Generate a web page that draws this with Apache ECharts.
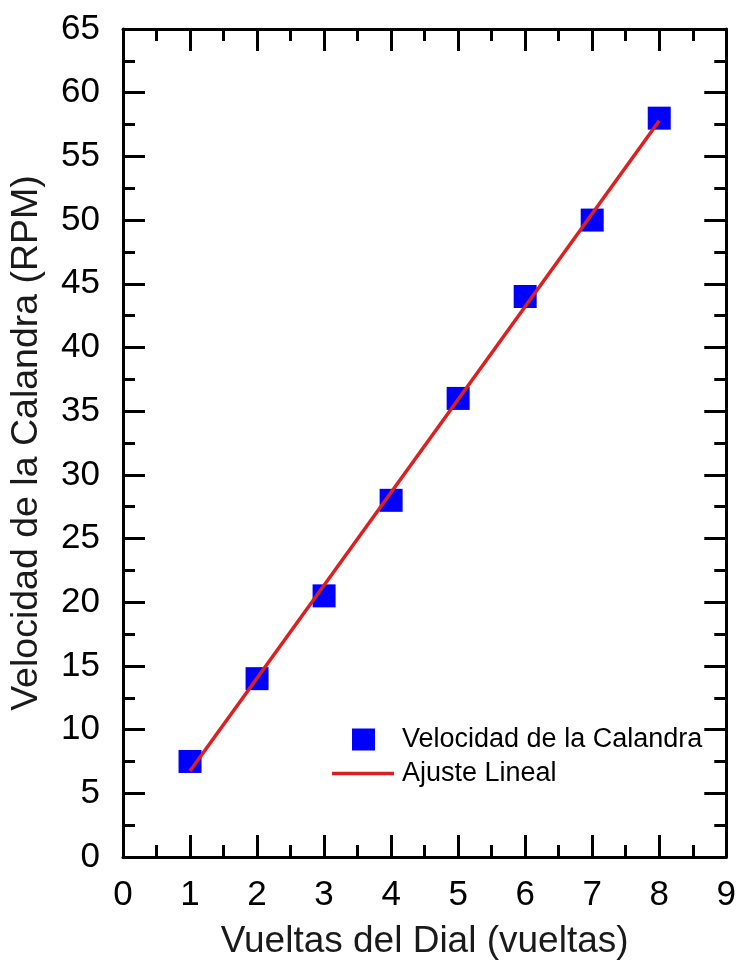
<!DOCTYPE html>
<html>
<head>
<meta charset="utf-8">
<script src="https://cdn.jsdelivr.net/npm/echarts@6/dist/echarts.min.js"></script>
<style>
html,body{margin:0;padding:0;background:#fff;}
#chart{width:739px;height:965px;}
</style>
</head>
<body>
<div id="chart"></div>
<script>
// Data
const dialTurns = [1, 2, 3, 4, 5, 6, 7, 8];
const speedRPM = [7.5, 14, 20.5, 28, 36, 44, 50, 58];
const fitX = [1, 8];
const fitY = [6.75, 57.8];
const xTicks = [0, 1, 2, 3, 4, 5, 6, 7, 8, 9];
const yTicks = [0, 5, 10, 15, 20, 25, 30, 35, 40, 45, 50, 55, 60, 65];

const seriesScatterName = 'Velocidad de la Calandra';
const seriesLineName = 'Ajuste Lineal';
const xTitle = 'Vueltas del Dial (vueltas)';
const yTitle = 'Velocidad de la Calandra (RPM)';

const FONT = "'Liberation Sans', Arial, sans-serif";

const chart = echarts.init(document.getElementById('chart'), null, {renderer: 'canvas'});

const tickStyle = {show: true, inside: true, length: 22, lineStyle: {color: '#000', width: 3}};
const minorStyle = {show: true, splitNumber: 2, length: 12, lineStyle: {color: '#000', width: 3}};
const lineStyleAxis = {show: true, onZero: false, lineStyle: {color: '#000', width: 3}};

function baseX(extra) {
  return Object.assign({
    type: 'value', min: xTicks[0], max: xTicks[xTicks.length - 1], interval: 1,
    axisLine: lineStyleAxis, axisTick: tickStyle, minorTick: minorStyle,
    splitLine: {show: false}, minorSplitLine: {show: false}
  }, extra);
}
function baseY(extra) {
  return Object.assign({
    type: 'value', min: yTicks[0], max: yTicks[yTicks.length - 1], interval: 5,
    axisLine: lineStyleAxis, axisTick: tickStyle, minorTick: minorStyle,
    splitLine: {show: false}, minorSplitLine: {show: false}
  }, extra);
}

const option = {
  backgroundColor: '#fff',
  animation: false,
  textStyle: {fontFamily: FONT},
  grid: {left: 122, right: 11, top: 29, bottom: 103, containLabel: false},
  xAxis: [
    baseX({
      position: 'bottom',
      name: xTitle, nameLocation: 'middle', nameGap: 66,
      nameTextStyle: {fontSize: 37, color: '#1a1a1a', fontFamily: FONT},
      axisLabel: {show: true, fontSize: 35, color: '#000', margin: 21, fontFamily: FONT}
    }),
    baseX({position: 'top', axisLabel: {show: false}})
  ],
  yAxis: [
    baseY({
      position: 'left',
      name: yTitle, nameLocation: 'middle', nameGap: 77, nameRotate: 90,
      nameTextStyle: {fontSize: 37.5, color: '#1a1a1a', fontFamily: FONT},
      axisLabel: {show: true, fontSize: 35, color: '#000', margin: 23, fontFamily: FONT}
    }),
    baseY({position: 'right', axisLabel: {show: false}})
  ],
  legend: [
    {
      data: [{name: seriesScatterName, icon: 'rect'}],
      left: 347, top: 721, orient: 'vertical',
      itemWidth: 23, itemHeight: 22,
      textStyle: {fontSize: 27, color: '#000', fontFamily: FONT, padding: [0, 0, 0, 22]},
      selectedMode: false
    },
    {
      data: [{name: seriesLineName, icon: 'rect'}],
      left: 327, top: 755, orient: 'vertical',
      itemWidth: 62, itemHeight: 3.5,
      textStyle: {fontSize: 27, color: '#000', fontFamily: FONT, padding: [0, 0, 0, 3]},
      selectedMode: false
    }
  ],
  series: [
    {
      name: seriesScatterName,
      type: 'scatter',
      symbol: 'rect',
      symbolSize: 23,
      itemStyle: {color: '#0000ff', opacity: 1},
      data: dialTurns.map((x, i) => [x, speedRPM[i]]),
      z: 2
    },
    {
      name: seriesLineName,
      type: 'line',
      symbol: 'none',
      lineStyle: {color: '#dd1f1f', width: 3.5},
      itemStyle: {color: '#dd1f1f'},
      data: fitX.map((x, i) => [x, fitY[i]]),
      z: 3
    }
  ]
};
chart.setOption(option);
</script>
</body>
</html>
